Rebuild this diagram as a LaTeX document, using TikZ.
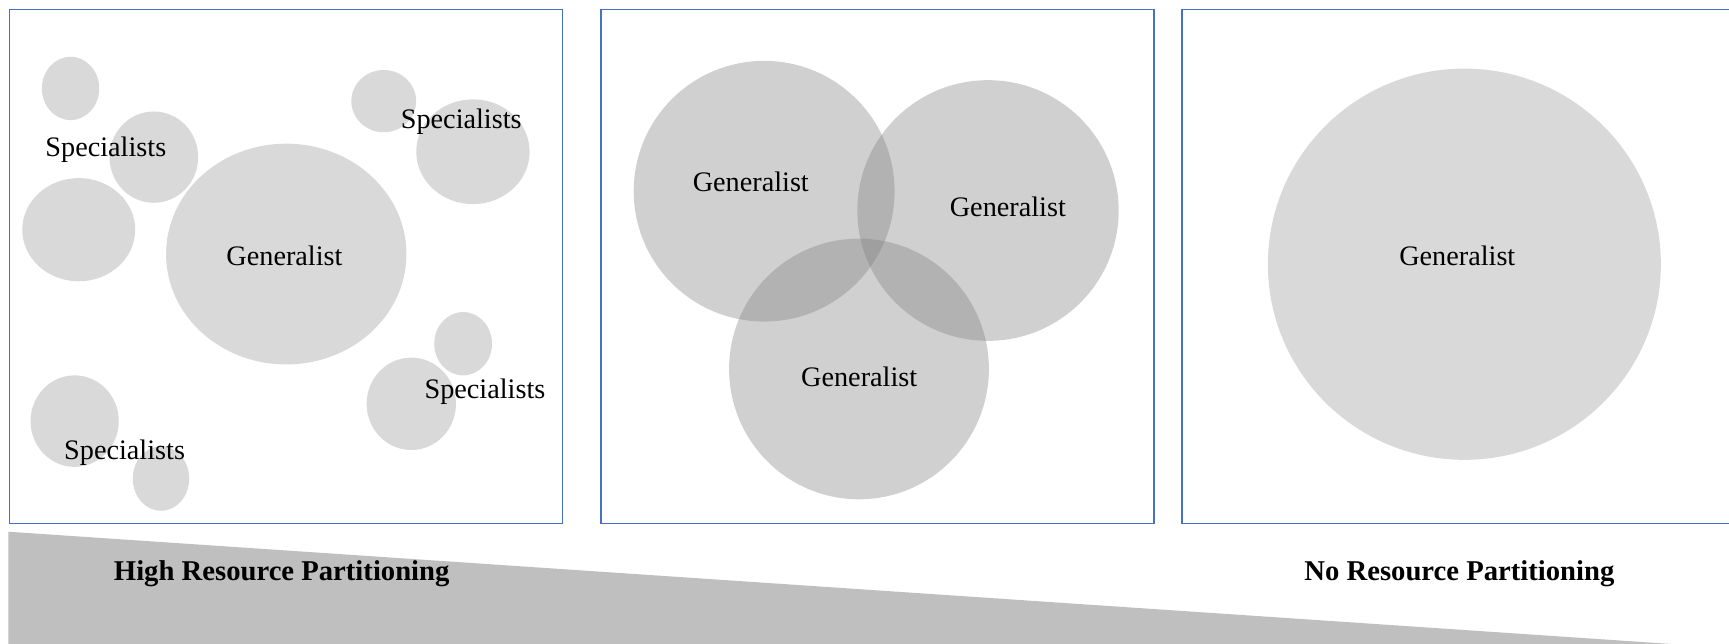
\documentclass[tikz,border=0pt]{standalone}
\usepackage{fontspec}
\setmainfont{Liberation Serif}
\begin{document}
\begin{tikzpicture}[x=0.5pt,y=-0.5pt,
  panel/.style={draw={rgb,255:red,68;green,114;blue,196}, line width=0.7pt},
  blob/.style={fill={rgb,255:red,217;green,217;blue,217}},
  tblob/.style={fill={rgb,255:red,125;green,125;blue,125}, fill opacity=0.36},
  lbl/.style={anchor=base, inner sep=0pt, font=\fontsize{12.8}{15}\selectfont},
  blbl/.style={anchor=base, inner sep=0pt, font=\fontsize{13}{15}\selectfont\bfseries},
  wedge/.style={fill={rgb,255:red,191;green,191;blue,191}}]
\useasboundingbox (0,0) rectangle (1568,584);
% bottom wedge
\fill[wedge] (7.6,482.2) -- (1523,584.5) -- (7.6,584.5) -- cycle;
% panels
\draw[panel] (8.6,8.8) rectangle (510,474.8);
\draw[panel] (545.1,8.8) rectangle (1046.7,474.8);
\draw[panel] (1071.7,8.8) rectangle (1575,474.8);
% panel 1 circles
\fill[blob] (64,80.2) ellipse [x radius=26, y radius=28.7];
\fill[blob] (139.5,142.5) ellipse [x radius=40.2, y radius=41.4];
\fill[blob] (71.4,208.3) ellipse [x radius=51.2, y radius=46.8];
\fill[blob] (259.6,230.4) ellipse [x radius=109, y radius=100.1];
\fill[blob] (348,91.7) ellipse [x radius=29.4, y radius=28.2];
\fill[blob] (428.9,137.6) ellipse [x radius=51.4, y radius=47.5];
\fill[blob] (420,311.7) ellipse [x radius=26.2, y radius=28.7];
\fill[blob] (373,366.2) ellipse [x radius=40.5, y radius=41.9];
\fill[blob] (67.7,381.9) ellipse [x radius=40, y radius=41.5];
\fill[blob] (146,434) ellipse [x radius=25.6, y radius=29.2];
\node[lbl] (s1) at (96,141.6) {Specialists};
\node[lbl] (s2) at (418.3,116.5) {Specialists};
\node[lbl] (s3) at (439.8,361) {Specialists};
\node[lbl] (s4) at (113,416.3) {Specialists};
\node[lbl] (g1) at (258,240.7) {Generalist};
% panel 2 circles
\fill[tblob] (693,173.4) ellipse [x radius=118.3, y radius=118.2];
\fill[tblob] (896,190.9) ellipse [x radius=118.5, y radius=118.2];
\fill[tblob] (779,334.6) ellipse [x radius=117.8, y radius=118.2];
\node[lbl] (g2a) at (680.9,173.8) {Generalist};
\node[lbl] (g2b) at (914,196.2) {Generalist};
\node[lbl] (g2c) at (779.2,350.1) {Generalist};
% panel 3
\fill[blob] (1328,239.6) ellipse [x radius=178.2, y radius=177.4];
\node[lbl] (g3) at (1321.6,240.7) {Generalist};
% bottom labels
\node[blbl] (hi) at (255.5,526) {High Resource Partitioning};
\node[blbl] (no) at (1323.5,526) {No Resource Partitioning};
\end{tikzpicture}
\end{document}
